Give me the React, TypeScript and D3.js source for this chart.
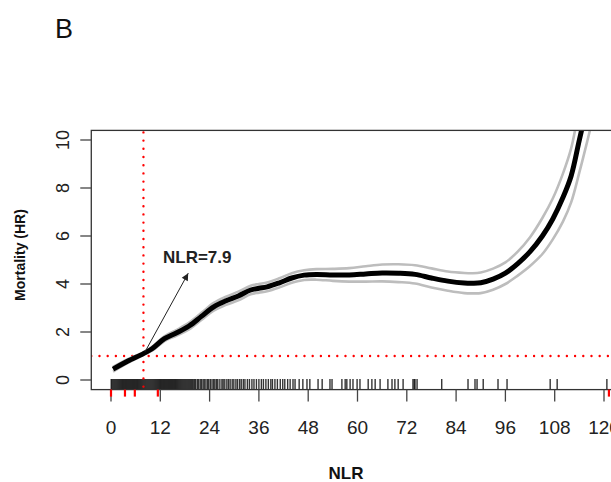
import React from "react";
import * as d3 from "d3";

// ---------- data ----------
const NLR = [0.5, 4, 7.9, 10, 13, 16, 19, 22, 25, 28, 31, 34, 36, 38, 41, 44, 47, 50, 54, 58, 62, 66, 70, 74, 78, 82, 86, 88, 90, 93, 96, 99, 102, 105, 107.5, 110, 112, 114, 116, 118];
const HR = [0.45, 0.78, 1.1, 1.3, 1.72, 1.97, 2.25, 2.65, 3.05, 3.3, 3.5, 3.75, 3.82, 3.88, 4.05, 4.25, 4.37, 4.4, 4.38, 4.38, 4.42, 4.46, 4.45, 4.4, 4.25, 4.12, 4.04, 4.03, 4.05, 4.2, 4.45, 4.85, 5.35, 6.0, 6.7, 7.6, 8.5, 10.0, 11.5, 13.0];
const HR_UPPER = [0.55, 0.86, 1.15, 1.38, 1.82, 2.09, 2.39, 2.8, 3.21, 3.47, 3.68, 3.93, 4.0, 4.06, 4.24, 4.45, 4.57, 4.62, 4.63, 4.66, 4.74, 4.81, 4.82, 4.78, 4.65, 4.52, 4.46, 4.45, 4.48, 4.64, 4.9, 5.35, 5.95, 6.75, 7.55, 8.6, 9.65, 11.35, 13.0, 14.6];
const HR_LOWER = [0.35, 0.7, 1.05, 1.22, 1.62, 1.85, 2.11, 2.5, 2.89, 3.13, 3.32, 3.57, 3.64, 3.7, 3.86, 4.05, 4.17, 4.18, 4.13, 4.1, 4.1, 4.11, 4.08, 4.02, 3.85, 3.72, 3.62, 3.61, 3.62, 3.76, 4.0, 4.35, 4.75, 5.25, 5.85, 6.6, 7.4, 8.65, 10.0, 11.4];

const RUG = [
  0.05, 0.25, 0.5, 0.75, 1, 1.25, 1.5, 1.75, 2, 2.25, 2.5, 2.75, 3, 3.25, 3.5, 3.75, 4, 4.25, 4.5, 4.75, 5,
  5.25, 5.5, 5.75, 6, 6.25, 6.5, 6.75, 7, 7.25, 7.5, 7.75, 8, 8.25, 8.5, 8.75, 9, 9.25, 9.5, 9.75, 10,
  10.25, 10.5, 10.75, 11, 11.25, 11.5, 11.75, 12, 12.25, 12.5, 12.75, 13, 13.25, 13.5, 13.75, 14, 14.25, 14.5, 14.75, 15,
  15.25, 15.5, 15.75, 16, 16.25, 16.5, 16.75, 17, 17.25, 17.5, 17.75, 18, 18.25, 18.5, 18.75, 19, 19.25, 19.5, 19.75, 20,
  20.3, 20.6, 21, 21.3, 21.7, 22, 22.4, 22.7, 23.1, 23.5, 23.8, 24.2, 24.6, 25, 25.3, 25.7, 26, 26.5, 27, 27.3,
  27.7, 28.2, 28.6, 29, 29.5, 29.9, 30.4, 30.8, 31.3, 31.7, 32.2, 32.6, 33.2, 33.7, 34.3, 34.8, 35.4, 36, 36.6, 37.1,
  37.7, 38.3, 38.9, 39.3, 39.9, 40.5, 41.2, 41.8, 42.3, 43, 43.6, 44.3,
  44.8, 45.8, 46.7, 47.7, 48.4, 50.4, 51.4, 53.3, 53.8, 56.2, 57.0, 57.4, 58.2, 58.9, 59.9, 60.6, 62.6, 63.5, 64.3, 65.5,
  67.4, 68.4, 69.1, 69.9, 71.1, 73.5, 73.8, 74.0, 74.5, 80.5, 86.9, 88.6, 89.1, 90.6, 94.2, 96.4, 106.9, 108.6, 120.7,
];
const KNOTS = [0, 3.4, 5.8, 11.4, 121.2];
const X_TICKS = [0, 12, 24, 36, 48, 60, 72, 84, 96, 108, 120];
const Y_TICKS = [0, 2, 4, 6, 8, 10];
const CUTOFF = 7.9;
const REF_HR = 1;
const CUTOFF_LABEL = "NLR=7.9";
const ARROW_FROM = [8.3, 1.18];
const ARROW_TO = [18.8, 4.45];

// ---------- layout ----------
const W = 611;
const H = 482;
const FONT = "'Liberation Sans', Arial, Helvetica, sans-serif";

export default function App() {
  const x = d3.scaleLinear().domain([0, 120]).range([111, 604]);
  const y = d3.scaleLinear().domain([0, 10]).range([380, 140]);
  const left = x(-4.8);
  const right = x(124.8);
  const top = y(10.4);
  const bottom = y(-0.4);

  const mk = (vals: number[]) =>
    d3
      .line<number>()
      .x((_, i) => x(NLR[i]))
      .y((v) => y(v))
      .curve(d3.curveCatmullRom.alpha(0.5))(vals) as string;

  const ax0 = x(ARROW_FROM[0]);
  const ay0 = y(ARROW_FROM[1]);
  const ax1 = x(ARROW_TO[0]);
  const ay1 = y(ARROW_TO[1]);
  const ang = Math.atan2(ay1 - ay0, ax1 - ax0);
  const hl = 8;
  const ha = Math.PI / 7;
  const h1 = [ax1 - hl * Math.cos(ang - ha), ay1 - hl * Math.sin(ang - ha)];
  const h2 = [ax1 - hl * Math.cos(ang + ha), ay1 - hl * Math.sin(ang + ha)];

  return (
    <svg
      width={W}
      height={H}
      style={{ position: "absolute", left: 0, top: 0, background: "#fff" }}
      fontFamily={FONT}
    >
      <defs>
        <clipPath id="plotclip">
          <rect x={left} y={top} width={right - left} height={bottom - top} />
        </clipPath>
      </defs>
      <rect x={0} y={0} width={W} height={H} fill="#fff" />

      <text x={55} y={38} fontSize={27} fill="#111">B</text>

      {/* rug */}
      <g>
        {RUG.map((v, i) => (
          <line key={i} x1={x(v)} x2={x(v)} y1={379} y2={bottom} stroke="#000" strokeWidth={1.4} strokeOpacity={0.8} />
        ))}
      </g>

      <g clipPath="url(#plotclip)">
        {/* reference lines */}
        <line x1={left} x2={right} y1={y(REF_HR)} y2={y(REF_HR)} stroke="#f00" strokeWidth={2.4} strokeDasharray="0 8.2" strokeLinecap="round" />
        <line x1={x(CUTOFF)} x2={x(CUTOFF)} y1={top + 2} y2={bottom} stroke="#f00" strokeWidth={2.4} strokeDasharray="0 8.2" strokeLinecap="round" />
        {/* CI */}
        <path d={mk(HR_UPPER)} fill="none" stroke="#bdbdbd" strokeWidth={2.6} />
        <path d={mk(HR_LOWER)} fill="none" stroke="#bdbdbd" strokeWidth={2.6} />
        {/* estimate */}
        <path d={mk(HR)} fill="none" stroke="#000" strokeWidth={5} strokeLinejoin="round" />
      </g>

      {/* arrow */}
      <line x1={ax0} y1={ay0} x2={ax1} y2={ay1} stroke="#222" strokeWidth={1} />
      <polygon points={`${ax1},${ay1} ${h1[0]},${h1[1]} ${h2[0]},${h2[1]}`} fill="#222" />
      <text x={163} y={263} fontSize={17} fontWeight="bold" fill="#222">{CUTOFF_LABEL}</text>

      {/* box */}
      <rect x={left} y={top} width={right - left} height={bottom - top} fill="none" stroke="#333" strokeWidth={1.3} />

      {/* x axis */}
      <g>
        {X_TICKS.map((t) => (
          <g key={t}>
            <line x1={x(t)} x2={x(t)} y1={bottom} y2={bottom + 12} stroke="#444" strokeWidth={1.3} />
            <text x={x(t)} y={434} fontSize={19} textAnchor="middle" fill="#222">{t}</text>
          </g>
        ))}
        {KNOTS.map((k, i) => (
          <line key={i} x1={x(k)} x2={x(k)} y1={bottom} y2={bottom + 7} stroke="#f00" strokeWidth={2.2} />
        ))}
      </g>

      {/* y axis */}
      <g>
        {Y_TICKS.map((t) => (
          <g key={t}>
            <line x1={left} x2={left - 11} y1={y(t)} y2={y(t)} stroke="#444" strokeWidth={1.3} />
            <text
              transform={`translate(${63},${y(t)}) rotate(-90)`}
              fontSize={18}
              textAnchor="middle"
              dominantBaseline="central"
              fill="#222"
            >
              {t}
            </text>
          </g>
        ))}
      </g>

      <text transform={`translate(25,255) rotate(-90)`} fontSize={14} fontWeight="bold" textAnchor="middle" fill="#111">
        Mortality (HR)
      </text>
      <text x={346} y={479} fontSize={17} fontWeight="bold" textAnchor="middle" fill="#111">NLR</text>
    </svg>
  );
}
